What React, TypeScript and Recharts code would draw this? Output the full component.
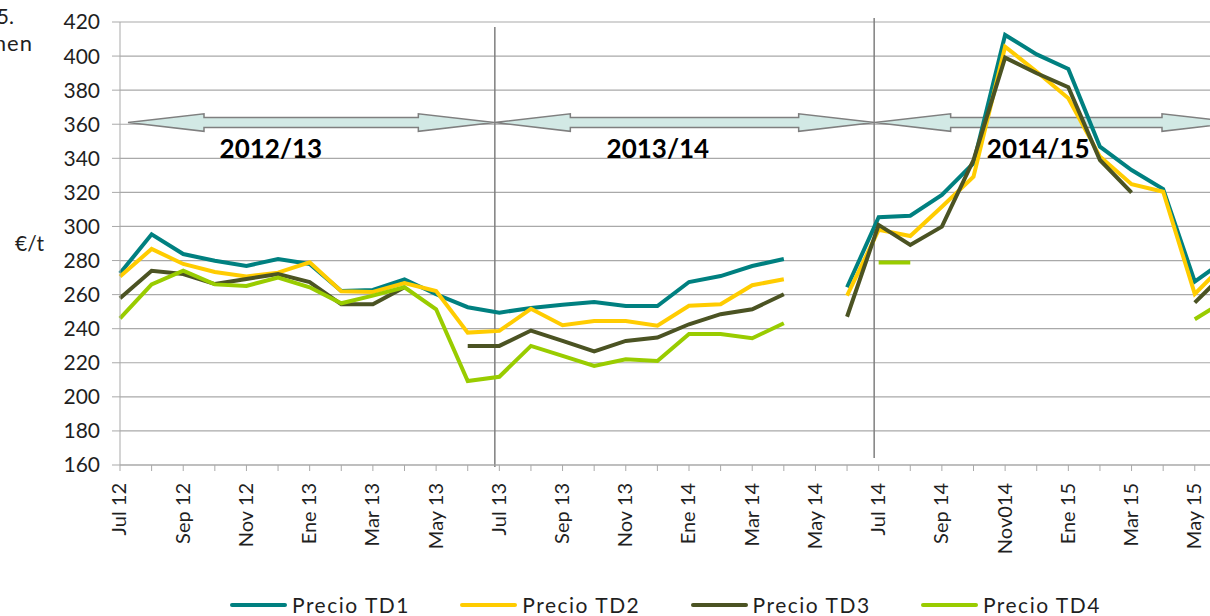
import React from 'react';
import {
  LineChart,
  Line,
  XAxis,
  YAxis,
  CartesianGrid,
  ReferenceArea,
  ReferenceLine,
} from 'recharts';

// monthly categories, Jul 12 .. Jul 15 (the chart is cropped on the right)
const months = [
  'Jul 12', 'Ago 12', 'Sep 12', 'Oct 12', 'Nov 12', 'Dic 12',
  'Ene 13', 'Feb 13', 'Mar 13', 'Abr 13', 'May 13', 'Jun 13',
  'Jul 13', 'Ago 13', 'Sep 13', 'Oct 13', 'Nov 13', 'Dic 13',
  'Ene 14', 'Feb 14', 'Mar 14', 'Abr 14', 'May 14', 'Jun 14',
  'Jul 14', 'Ago 14', 'Sep 14', 'Oct 14', 'Nov014', 'Dic 14',
  'Ene 15', 'Feb 15', 'Mar 15', 'Abr 15', 'May 15', 'Jun 15',
  'Jul 15',
];

// only every second month gets a label
const tickLabels = [
  'Jul 12', 'Sep 12', 'Nov 12', 'Ene 13', 'Mar 13', 'May 13',
  'Jul 13', 'Sep 13', 'Nov 13', 'Ene 14', 'Mar 14', 'May 14',
  'Jul 14', 'Sep 14', 'Nov014', 'Ene 15', 'Mar 15', 'May 15', 'Jul 15',
];

const precioTD1 = [
  272.5, 295.4, 283.8, 279.9, 276.8, 280.9, 278, 262.1, 262.7, 269, 260.2, 252.6,
  249.4, 252.2, 254, 255.7, 253.3, 253.3, 267.4, 270.9, 276.8, 280.9, null, 264.3,
  305.4, 306.3, 318.5, 337.1, 412.4, 401, 392.4, 346.8, 333.1, 322, 267.6, 281,
  null,
];
const precioTD2 = [
  270.6, 286.8, 278, 273.3, 270.6, 272.9, 279, 262, 261.6, 266.8, 262.1, 237.7,
  238.7, 251.7, 242, 244.5, 244.5, 241.8, 253.5, 254.3, 265.5, 269, null, 259.4,
  298, 294.4, 311.6, 329.2, 405.5, 390.8, 375.2, 341, 324.8, 320.4, 260.4, 279,
  null,
];
const precioTD3 = [
  257.8, 274, 272.1, 266.2, 269.2, 272.1, 267.3, 254.3, 254.3, 264.3, null, 229.9,
  229.9, 238.9, 232.8, 226.7, 232.8, 234.8, 242.6, 248.5, 251.4, 260.2, null, 247,
  300.9, 289.1, 299.9, 339, 399.1, 389.9, 381.7, 339, 319.8, null, 255.3, 273.6,
  null,
];
const precioTD4 = [
  246.1, 266, 274, 266, 265.1, 270, 264.3, 254.9, 259.4, 264.3, 251.4, 209.3,
  211.8, 229.9, 224, 218.1, 222, 221, 236.9, 236.9, 234.4, 243.2, null, null,
  278.8, 278.8, null, null, null, null, null, null, null, null, 245.5, 257,
  null,
];

const seriesNames = ['Precio TD1', 'Precio TD2', 'Precio TD3', 'Precio TD4'];
const seriesKeys = ['td1', 'td2', 'td3', 'td4'];

const campaigns = ['2012/13', '2013/14', '2014/15'];
const campaignStart = ['Jul 12', 'Jul 13', 'Jul 14'];
const campaignEnd = ['Jul 13', 'Jul 14', 'Jul 15'];
const campaignBreaks = ['Jul 13', 'Jul 14'];

const yTicks = [160, 180, 200, 220, 240, 260, 280, 300, 320, 340, 360, 380, 400, 420];

const COLORS = ['#008080', '#FFCC00', '#4B5323', '#99CC00'];
const FONT = "Lato, 'DejaVu Sans', sans-serif";
const GRID = '#a9a9a9';
const TEXT = '#1f1f1f';

// hand-drawn shapes in the original sit a few px off the month ticks
const ARROW_INSET = [[8, 5], [-5, 4], [-4, 20]];
const LABEL_AT = [0.39, 0.43, 0.45];
const BREAK_EXTENT = [[5, 2], [-4, -7]];

const data = months.map((month, i) => ({
  month,
  td1: precioTD1[i],
  td2: precioTD2[i],
  td3: precioTD3[i],
  td4: precioTD4[i],
}));

const MonthTick = (props: any) => {
  const { x, y, payload } = props;
  if (!tickLabels.includes(payload.value)) return <g />;
  return (
    <g transform={`translate(${x},${y + 10})`}>
      <text
        transform="rotate(-90)"
        textAnchor="end"
        dy="0.32em"
        fontFamily={FONT}
        fontSize={20}
        fill={TEXT}
      >
        {payload.value}
      </text>
    </g>
  );
};

const makeArrow = (idx: number) => (props: any) => {
  const { x, y, width, height } = props;
  const head = 76;
  const headH = 8.8;
  const shaftH = 5;
  const L = x + ARROW_INSET[idx][0];
  const R = x + width - ARROW_INSET[idx][1];
  const c = y + height / 2;
  const pts = [
    [L, c], [L + head, c - headH], [L + head, c - shaftH], [R - head, c - shaftH],
    [R - head, c - headH], [R, c], [R - head, c + headH], [R - head, c + shaftH],
    [L + head, c + shaftH], [L + head, c + headH],
  ];
  return (
    <g>
      <polygon
        points={pts.map(p => p.join(',')).join(' ')}
        fill="#d2e9e5"
        stroke="#7f7f7f"
        strokeWidth={1.5}
      />
      <text
        x={L + LABEL_AT[idx] * (R - L)}
        y={c + 35}
        textAnchor="middle"
        fontFamily={FONT}
        fontWeight={700}
        fontSize={26}
        fill="#000"
      >
        {campaigns[idx]}
      </text>
    </g>
  );
};

const makeBreak = (idx: number) => (props: any) => {
  const { x1, y1, x2, y2 } = props;
  const top = Math.min(y1, y2) + BREAK_EXTENT[idx][0];
  const bottom = Math.max(y1, y2) + BREAK_EXTENT[idx][1];
  return (
    <line x1={x1 - 4.5} x2={x2 - 4.5} y1={top} y2={bottom} stroke="#7f7f7f" strokeWidth={1.5} />
  );
};

export default function App() {
  return (
    <div
      style={{
        position: 'fixed',
        left: 0,
        top: 0,
        width: 1210,
        height: 616,
        overflow: 'hidden',
        background: '#fff',
        fontFamily: FONT,
        color: TEXT,
      }}
    >
      <LineChart
        width={1270}
        height={616}
        data={data}
        margin={{ top: 22, right: 12, bottom: 0, left: 0 }}
      >
        <CartesianGrid vertical={false} stroke={GRID} strokeWidth={1.2} />
        <XAxis
          dataKey="month"
          interval={0}
          tick={<MonthTick />}
          tickSize={6}
          height={151}
          stroke={GRID}
          padding={{ left: 0, right: 0 }}
        />
        <YAxis
          domain={[160, 420]}
          ticks={yTicks}
          width={120}
          tickSize={8}
          tickMargin={12}
          stroke={GRID}
          allowDataOverflow
          tick={{ fontFamily: FONT, fontSize: 21, fill: TEXT }}
        />
        {campaigns.map((c, i) => (
          <ReferenceArea
            key={c}
            x1={campaignStart[i]}
            x2={campaignEnd[i]}
            y1={359}
            y2={363}
            ifOverflow="visible"
            shape={makeArrow(i)}
          />
        ))}
        {campaignBreaks.map((m, i) => (
          <ReferenceLine key={m} x={m} ifOverflow="visible" shape={makeBreak(i)} />
        ))}
        {seriesKeys.map((k, i) => (
          <Line
            key={k}
            type="linear"
            dataKey={k}
            name={seriesNames[i]}
            stroke={COLORS[i]}
            strokeWidth={4}
            dot={false}
            activeDot={false}
            isAnimationActive={false}
          />
        ))}
      </LineChart>

      {/* fragments of a note that is cut off by the left edge in the original */}
      <div style={{ position: 'absolute', right: 1196, top: 5, fontSize: 21, lineHeight: '21px', whiteSpace: 'nowrap' }}>
        5.
      </div>
      <div style={{ position: 'absolute', right: 1177, top: 32, fontSize: 22, lineHeight: '21px', letterSpacing: 1, whiteSpace: 'nowrap' }}>
        men
      </div>
      <div style={{ position: 'absolute', left: 15, top: 232, fontSize: 21, lineHeight: '21px' }}>
        €/t
      </div>

      <div style={{ position: 'absolute', left: 230, top: 594, display: 'flex' }}>
        {seriesNames.map((name, i) => (
          <div key={name} style={{ width: 230.3, height: 21, display: 'flex', alignItems: 'center' }}>
            <span
              style={{
                display: 'inline-block',
                width: 57,
                height: 4,
                borderRadius: 2,
                background: COLORS[i],
                marginRight: 5,
              }}
            />
            <span style={{ fontSize: 21, lineHeight: '21px', letterSpacing: 1.5 }}>{name}</span>
          </div>
        ))}
      </div>
    </div>
  );
}
